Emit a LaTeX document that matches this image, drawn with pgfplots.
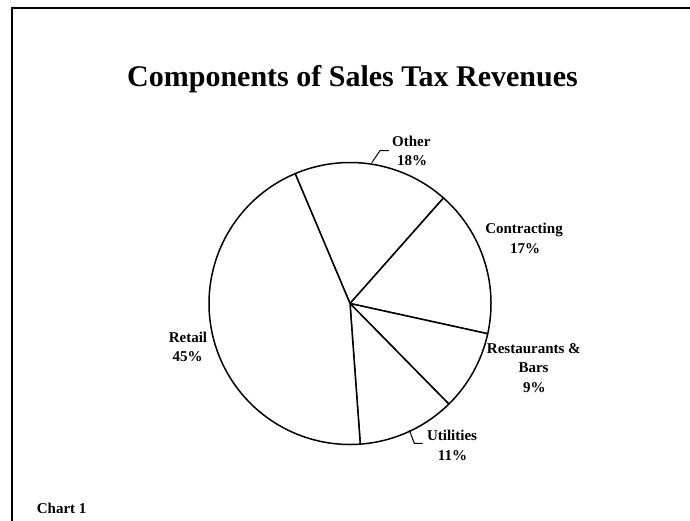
\documentclass[border=0pt]{standalone}
\usepackage{pgfplots}
\pgfplotsset{compat=1.18}
\usepackage{fontspec}
\setmainfont{Liberation Serif}
% shares (percent), clockwise from 112.9 degrees
\def\vOther{17.9}
\def\vContr{16.9}
\def\vRest{9.2}
\def\vUtil{11.2}
\def\vRetail{44.8}
\pgfmathsetmacro\aA{112.9}
\pgfmathsetmacro\aB{\aA-3.6*\vOther}
\pgfmathsetmacro\aC{\aB-3.6*\vContr}
\pgfmathsetmacro\aD{\aC-3.6*\vRest}
\pgfmathsetmacro\aE{\aD-3.6*\vUtil}
\pgfmathsetmacro\aF{\aE-3.6*\vRetail}
\begin{document}%
\begin{tikzpicture}
\begin{axis}[
  at={(0,0)}, anchor=south west,
  scale only axis, width=690pt, height=520pt,
  xmin=0, xmax=690, ymin=0, ymax=520, y dir=reverse,
  ticks=none, axis line style={draw=none}, clip=true,
]
% frame
\addplot[black, line width=2pt] coordinates {(12,530) (12,8) (700,8)};
% slices
\addplot[black, line width=1.5pt, line join=round, fill=white, domain=\aB:\aA, samples=60] ({350+141*cos(x)},{303.5-141*sin(x)}) -- (axis cs:350,303.5) -- cycle;
\addplot[black, line width=1.5pt, line join=round, fill=white, domain=\aC:\aB, samples=60] ({350+141*cos(x)},{303.5-141*sin(x)}) -- (axis cs:350,303.5) -- cycle;
\addplot[black, line width=1.5pt, line join=round, fill=white, domain=\aD:\aC, samples=40] ({350+141*cos(x)},{303.5-141*sin(x)}) -- (axis cs:350,303.5) -- cycle;
\addplot[black, line width=1.5pt, line join=round, fill=white, domain=\aE:\aD, samples=40] ({350+141*cos(x)},{303.5-141*sin(x)}) -- (axis cs:350,303.5) -- cycle;
\addplot[black, line width=1.5pt, line join=round, fill=white, domain=\aF:\aE, samples=120] ({350+141*cos(x)},{303.5-141*sin(x)}) -- (axis cs:350,303.5) -- cycle;
% leader lines
\addplot[black, line width=1pt] coordinates {(371.7,162.7) (380,150.7) (389,150.7)};
\addplot[black, line width=1pt] coordinates {(409.3,430) (414.3,443.3) (422.7,443.3)};
% title
\node[anchor=base, font=\fontsize{30}{36}\selectfont\bfseries] at (axis cs:352.5,86.7) {Components of Sales Tax Revenues};
% labels
\tikzset{lbl/.style={anchor=base, inner sep=0pt, font=\fontsize{15}{18}\selectfont\bfseries}}
\node[lbl] at (axis cs:411.3,146) {Other};
\node[lbl] at (axis cs:412,165.5) {18\%};
\node[lbl] at (axis cs:524,233.3) {Contracting};
\node[lbl] at (axis cs:525,253.3) {17\%};
\node[lbl] at (axis cs:533.8,353.3) {Restaurants \&};
\node[lbl] at (axis cs:533.5,372.5) {Bars};
\node[lbl] at (axis cs:534.4,392) {9\%};
\node[lbl] at (axis cs:452,440.7) {Utilities};
\node[lbl] at (axis cs:452.5,460) {11\%};
\node[lbl] at (axis cs:188,342.3) {Retail};
\node[lbl] at (axis cs:187.7,361) {45\%};
\node[lbl, anchor=base west] at (axis cs:36.7,513.3) {Chart 1};
\end{axis}
\end{tikzpicture}%
\end{document}
